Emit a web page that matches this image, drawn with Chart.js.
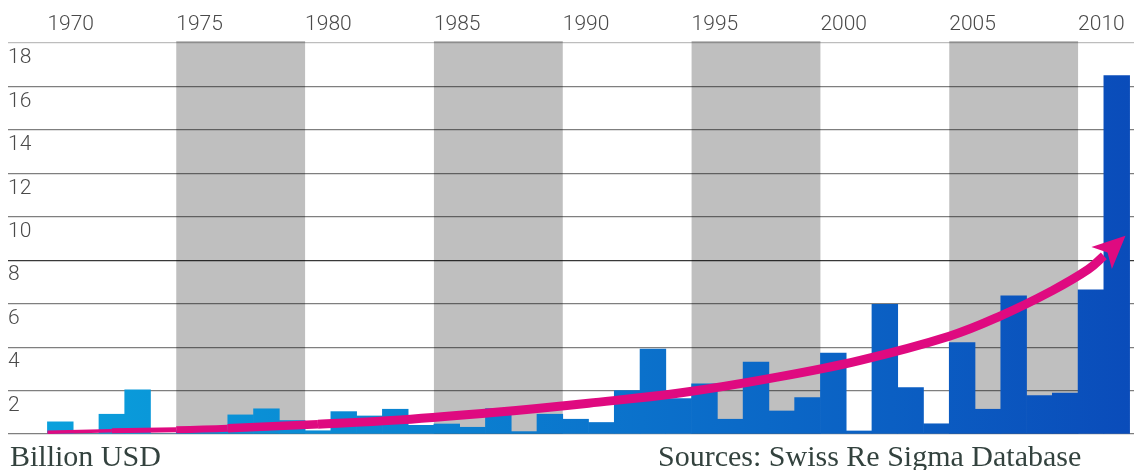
<!DOCTYPE html>
<html>
<head>
<meta charset="utf-8">
<script src="https://cdn.jsdelivr.net/npm/chart.js@4.4.1/dist/chart.umd.min.js"></script>
<style>
  html, body { margin: 0; padding: 0; background: #fff; }
  #wrap { position: relative; width: 1134px; height: 470px; overflow: hidden; }
  #c { position: absolute; left: 0; top: 0; }
  .note {
    position: absolute;
    font-family: "Liberation Serif", "Times New Roman", serif;
    font-size: 30px;
    line-height: 30px;
    color: #33423e;
    white-space: nowrap;
  }
</style>
</head>
<body>
<div id="wrap">
  <canvas id="c" width="1134" height="470"></canvas>
  <div class="note" style="left:10px; top:441px;">Billion USD</div>
  <div class="note" style="left:658px; top:441px;">Sources: Swiss Re Sigma Database</div>
</div>
<script>
// Yearly insured losses, billion USD
const years = [
  1970, 1971, 1972, 1973, 1974, 1975, 1976, 1977, 1978, 1979,
  1980, 1981, 1982, 1983, 1984, 1985, 1986, 1987, 1988, 1989,
  1990, 1991, 1992, 1993, 1994, 1995, 1996, 1997, 1998, 1999,
  2000, 2001, 2002, 2003, 2004, 2005, 2006, 2007, 2008, 2009,
  2010, 2011
];
const losses = [
  0.56, 0, 0.91, 2.03, 0, 0.15, 0.15, 0.88, 1.16, 0.62,
  0.15, 1.03, 0.83, 1.14, 0.40, 0.46, 0.31, 1.17, 0.11, 0.91,
  0.68, 0.53, 2.00, 3.91, 1.63, 2.31, 0.68, 3.31, 1.06, 1.68,
  3.72, 0.14, 5.97, 2.14, 0.47, 4.21, 1.14, 6.36, 1.77, 1.88,
  6.64, 16.5
];

// Year labels along the top
const tickYears = [1970, 1975, 1980, 1985, 1990, 1995, 2000, 2005, 2010];
// Value gridlines
const valueTicks = [0, 2, 4, 6, 8, 10, 12, 14, 16, 18];

// Shaded five-year periods
const shadedStarts = [1975, 1985, 1995, 2005];
const shadeSpan = 5;

// Trend arrow drawn across the bars
const trendYears  = [1970.0, 1972.5, 1975.0, 1977.0, 1980.5, 1983.7, 1987.4, 1991.0, 1994.6, 1998.0, 2001.5, 2005.0, 2007.0, 2009.0, 2010.4, 2011.0];
const trendValues = [0.08,   0.15,   0.20,   0.27,   0.45,   0.65,   1.00,   1.42,   1.90,   2.55,   3.38,   4.50,   5.44,   6.60,   7.58,   8.20];
const arrowTip = [2011.84, 9.13];

const PINK = '#df0a80';
const tickFont = { family: 'Roboto, "Noto Sans", sans-serif', size: 21, weight: '300' };

let barGradient = null;
function barFill(ctx) {
  const chart = ctx.chart;
  const area = chart.chartArea;
  if (!area) return '#0a7fd0';
  if (!barGradient) {
    const xs = chart.scales.x;
    const x0 = xs.getPixelForValue(years[0]);
    const x1 = xs.getPixelForValue(years[years.length - 1] + 1);
    const g = chart.ctx.createLinearGradient(x0, 0, x1, 0);
    g.addColorStop(0.00, '#0aa0dc');
    g.addColorStop(0.26, '#0a8ad4');
    g.addColorStop(0.55, '#0b71cb');
    g.addColorStop(0.78, '#0b5fc3');
    g.addColorStop(1.00, '#0a4cba');
    barGradient = g;
  }
  return barGradient;
}

// Grey period bands, painted under the gridlines
const bandsPlugin = {
  id: 'periodBands',
  beforeDraw(chart) {
    const { ctx, chartArea, scales } = chart;
    ctx.save();
    ctx.fillStyle = '#bfbfbf';
    shadedStarts.forEach(start => {
      const l = scales.x.getPixelForValue(start);
      const r = scales.x.getPixelForValue(start + shadeSpan);
      ctx.fillRect(l, chartArea.top - 2, r - l, chartArea.bottom - chartArea.top + 2);
    });
    ctx.restore();
  }
};

// Arrow head at the end of the trend line
const arrowPlugin = {
  id: 'trendArrow',
  afterDatasetsDraw(chart) {
    const meta = chart.getDatasetMeta(1);
    const pts = meta.data;
    const base = pts[pts.length - 1];
    const tx = chart.scales.x.getPixelForValue(arrowTip[0]);
    const ty = chart.scales.y.getPixelForValue(arrowTip[1]);
    let dx = tx - base.x, dy = ty - base.y;
    const len = Math.hypot(dx, dy);
    dx /= len; dy /= len;
    const px = -dy, py = dx;
    const half = 15;
    const ctx = chart.ctx;
    ctx.save();
    ctx.fillStyle = PINK;
    ctx.beginPath();
    ctx.moveTo(tx, ty);
    ctx.lineTo(base.x + px * half - dx * 3, base.y + py * half - dy * 3);
    ctx.lineTo(base.x + dx * 5, base.y + dy * 5);
    ctx.lineTo(base.x - px * half - dx * 3, base.y - py * half - dy * 3);
    ctx.closePath();
    ctx.fill();
    ctx.restore();
  }
};

const segWidths = [3.5, 5, 7, 8.5];

new Chart(document.getElementById('c'), {
  data: {
    datasets: [
      {
        type: 'bar',
        order: 2,
        data: years.map((yr, i) => ({ x: yr + 0.5, y: losses[i] })),
        backgroundColor: barFill,
        borderWidth: 0,
        barPercentage: 1.0,
        categoryPercentage: 1.0,
        grouped: false
      },
      {
        type: 'line',
        order: 1,
        data: trendYears.map((yr, i) => ({ x: yr, y: trendValues[i] })),
        borderColor: PINK,
        borderWidth: 9,
        borderCapStyle: 'butt',
        borderJoinStyle: 'round',
        pointRadius: 0,
        tension: 0.4,
        fill: false,
        segment: {
          borderWidth: c => (c.p0DataIndex < segWidths.length ? segWidths[c.p0DataIndex] : 9)
        }
      }
    ]
  },
  options: {
    responsive: false,
    maintainAspectRatio: false,
    devicePixelRatio: 1,
    animation: false,
    events: [],
    layout: { padding: { top: 0, left: 0, right: 0, bottom: 36 } },
    plugins: { legend: { display: false }, tooltip: { enabled: false } },
    scales: {
      x: {
        type: 'linear',
        position: 'top',
        offset: false,
        bounds: 'ticks',
        min: 1968.47,
        max: 2012.17,
        grid: { display: false, drawTicks: false, offset: false },
        border: { display: false },
        afterBuildTicks: s => { s.ticks = tickYears.map(v => ({ value: v })); },
        afterFit: s => { s.height = 43; },
        ticks: {
          align: 'start',
          padding: 6,
          autoSkip: false,
          maxRotation: 0,
          font: tickFont,
          color: '#4a4a4a',
          callback: v => String(v)
        }
      },
      y: {
        type: 'linear',
        position: 'left',
        min: 0,
        max: 18,
        afterBuildTicks: s => { s.ticks = valueTicks.map(v => ({ value: v })); },
        afterFit: s => { s.width = 8; },
        border: { display: false },
        grid: {
          drawTicks: false,
          lineWidth: 1.2,
          color: c => {
            const v = c.tick && c.tick.value;
            if (v === 18) return 'rgba(0,0,0,0.26)';
            if (v === 8) return 'rgba(0,0,0,0.78)';
            return 'rgba(0,0,0,0.5)';
          }
        },
        ticks: {
          mirror: true,
          padding: 0,
          labelOffset: 15,
          font: tickFont,
          color: '#4a4a4a',
          callback: v => (v === 0 ? '' : String(v))
        }
      }
    }
  },
  plugins: [bandsPlugin, arrowPlugin]
});
</script>
</body>
</html>
